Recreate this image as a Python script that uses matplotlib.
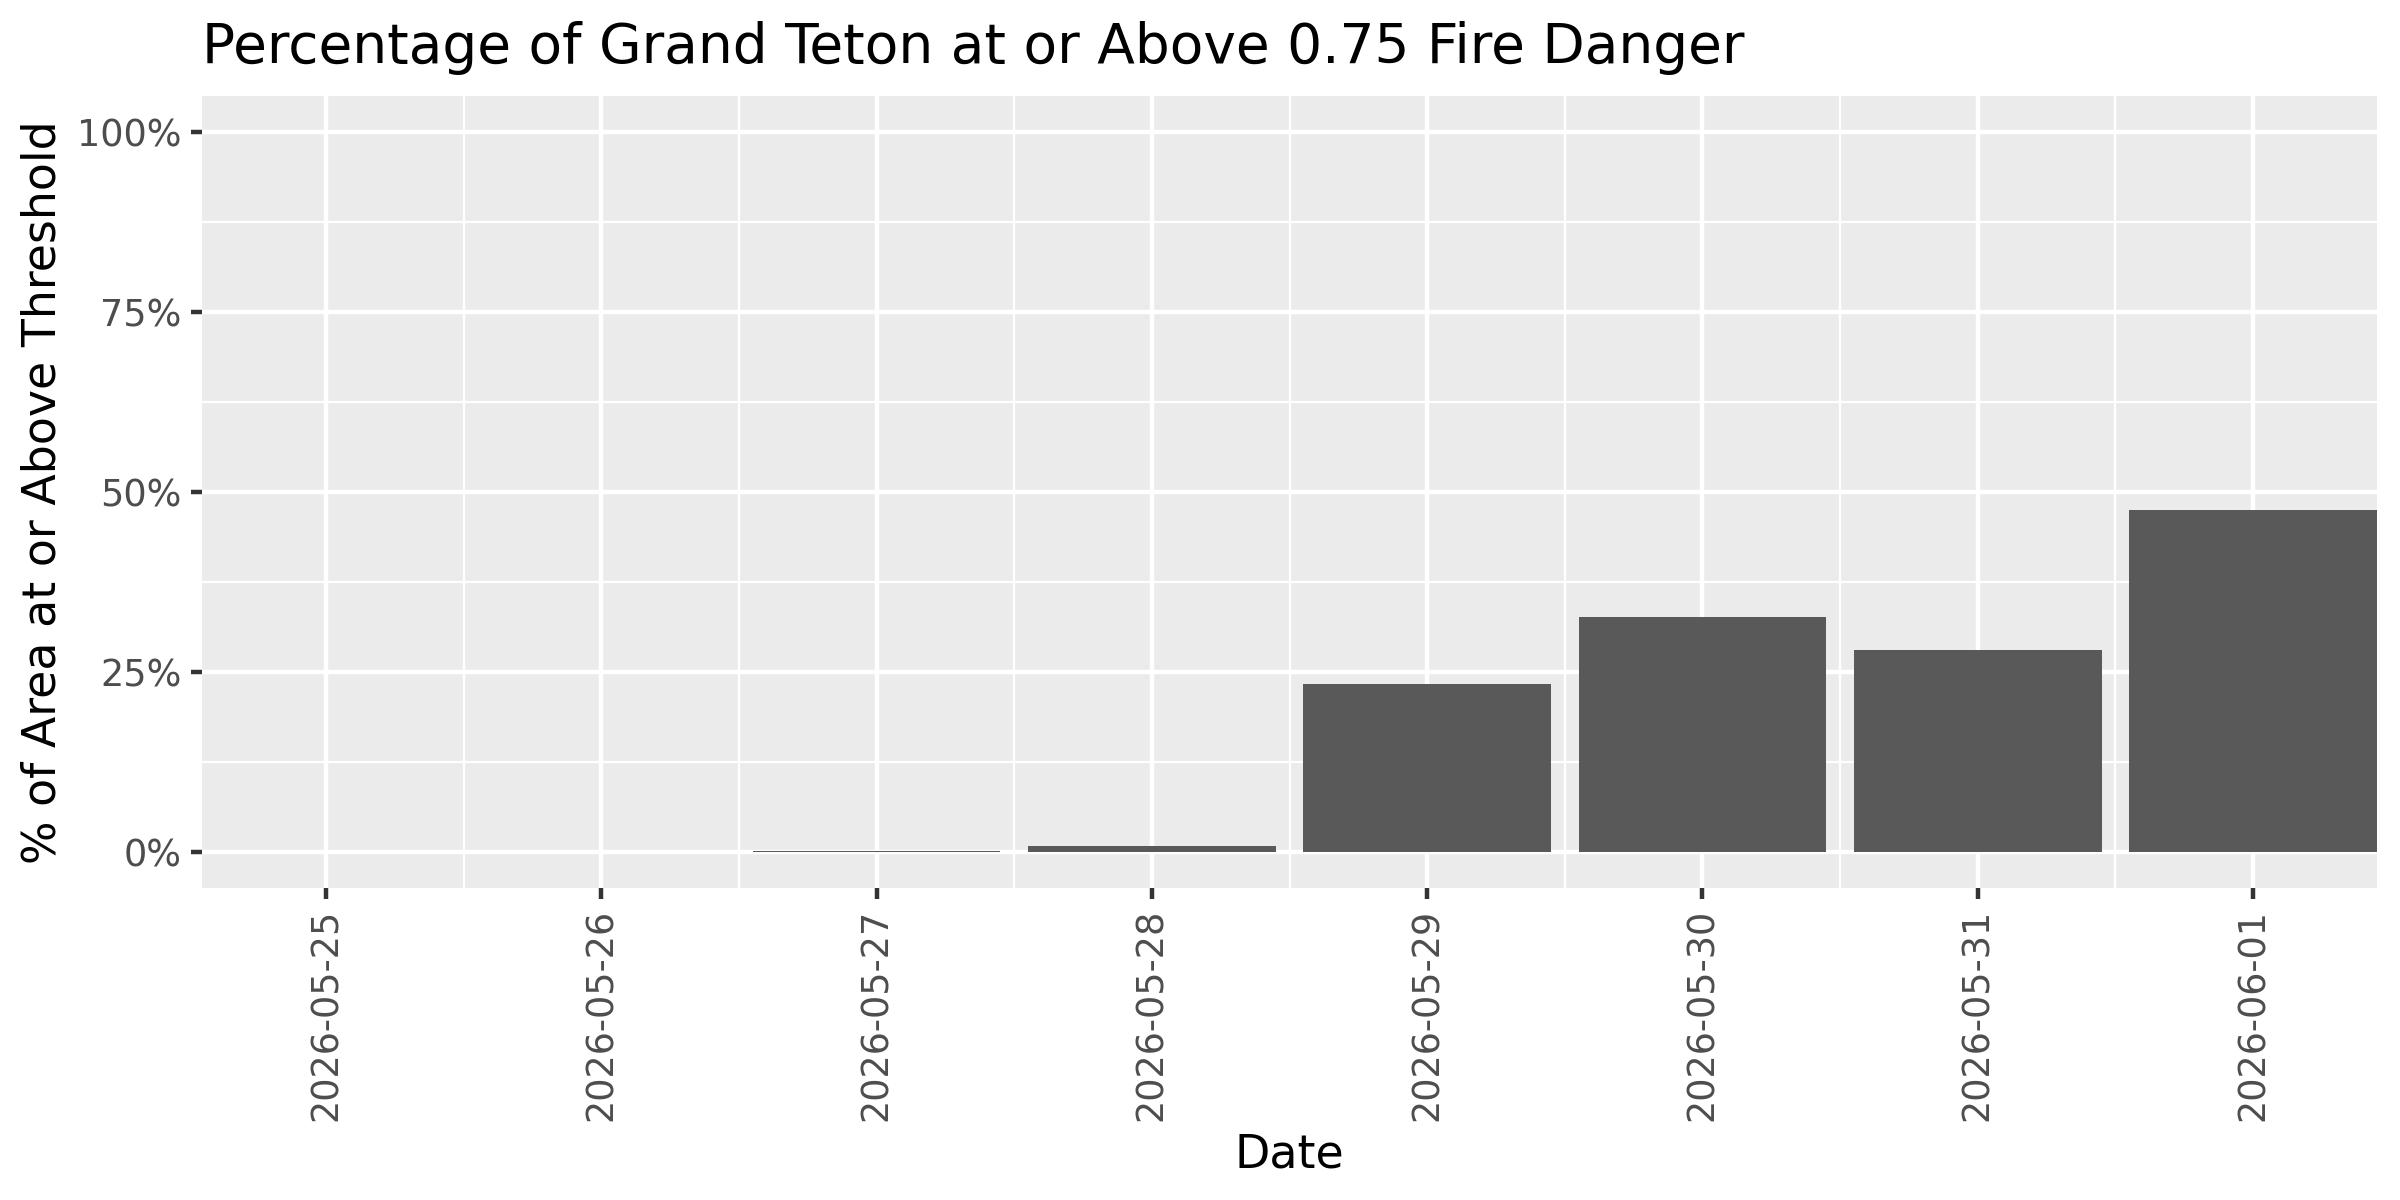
import numpy as np
from matplotlib import pyplot as plt
from matplotlib.ticker import FixedLocator, PercentFormatter

# data
dates = [
    "2026-05-25", "2026-05-26", "2026-05-27", "2026-05-28",
    "2026-05-29", "2026-05-30", "2026-05-31", "2026-06-01",
]
pct_above = [0.0, 0.0, 0.0015, 0.009, 0.233, 0.326, 0.280, 0.475]
y_ticks = [0.0, 0.25, 0.5, 0.75, 1.0]

title = "Percentage of Grand Teton at or Above 0.75 Fire Danger"
x_label = "Date"
y_label = "% of Area at or Above Threshold"

plt.rcParams["font.family"] = ["DejaVu Sans"]

fig = plt.figure(figsize=(8, 4), dpi=300)
ax = fig.add_axes([0.0842, 0.26, 0.9062, 0.66])

xs = np.arange(len(dates))
ax.bar(xs, pct_above, width=0.9, color="#595959", zorder=3)

# ggplot-like panel
ax.set_facecolor("#EBEBEB")
for side in ax.spines.values():
    side.set_visible(False)

ax.set_xlim(-0.45, len(dates) - 0.55)
ax.set_ylim(-0.05, 1.05)

ax.xaxis.set_major_locator(FixedLocator(xs))
ax.xaxis.set_minor_locator(FixedLocator(xs[:-1] + 0.5))
ax.yaxis.set_major_locator(FixedLocator(y_ticks))
ax.yaxis.set_minor_locator(FixedLocator([0.125, 0.375, 0.625, 0.875]))
ax.yaxis.set_major_formatter(PercentFormatter(xmax=1, decimals=0))
ax.set_xticklabels(dates, rotation=90)

ax.grid(which="major", color="white", linewidth=1.07, zorder=0)
ax.grid(which="minor", color="white", linewidth=0.53, zorder=0)
ax.set_axisbelow(True)

ax.tick_params(which="major", length=2.75, width=1.07, color="#333333",
               labelcolor="#4D4D4D", labelsize=8.8, pad=2.2)
ax.tick_params(which="minor", length=0)

ax.set_xlabel(x_label, fontsize=11, color="black", labelpad=2.75)
ax.set_ylabel(y_label, fontsize=11, color="black", labelpad=2.75)
ax.set_title(title, fontsize=13.2, loc="left", color="black", pad=8)

fig.savefig("out.png", dpi=300, facecolor="white")
